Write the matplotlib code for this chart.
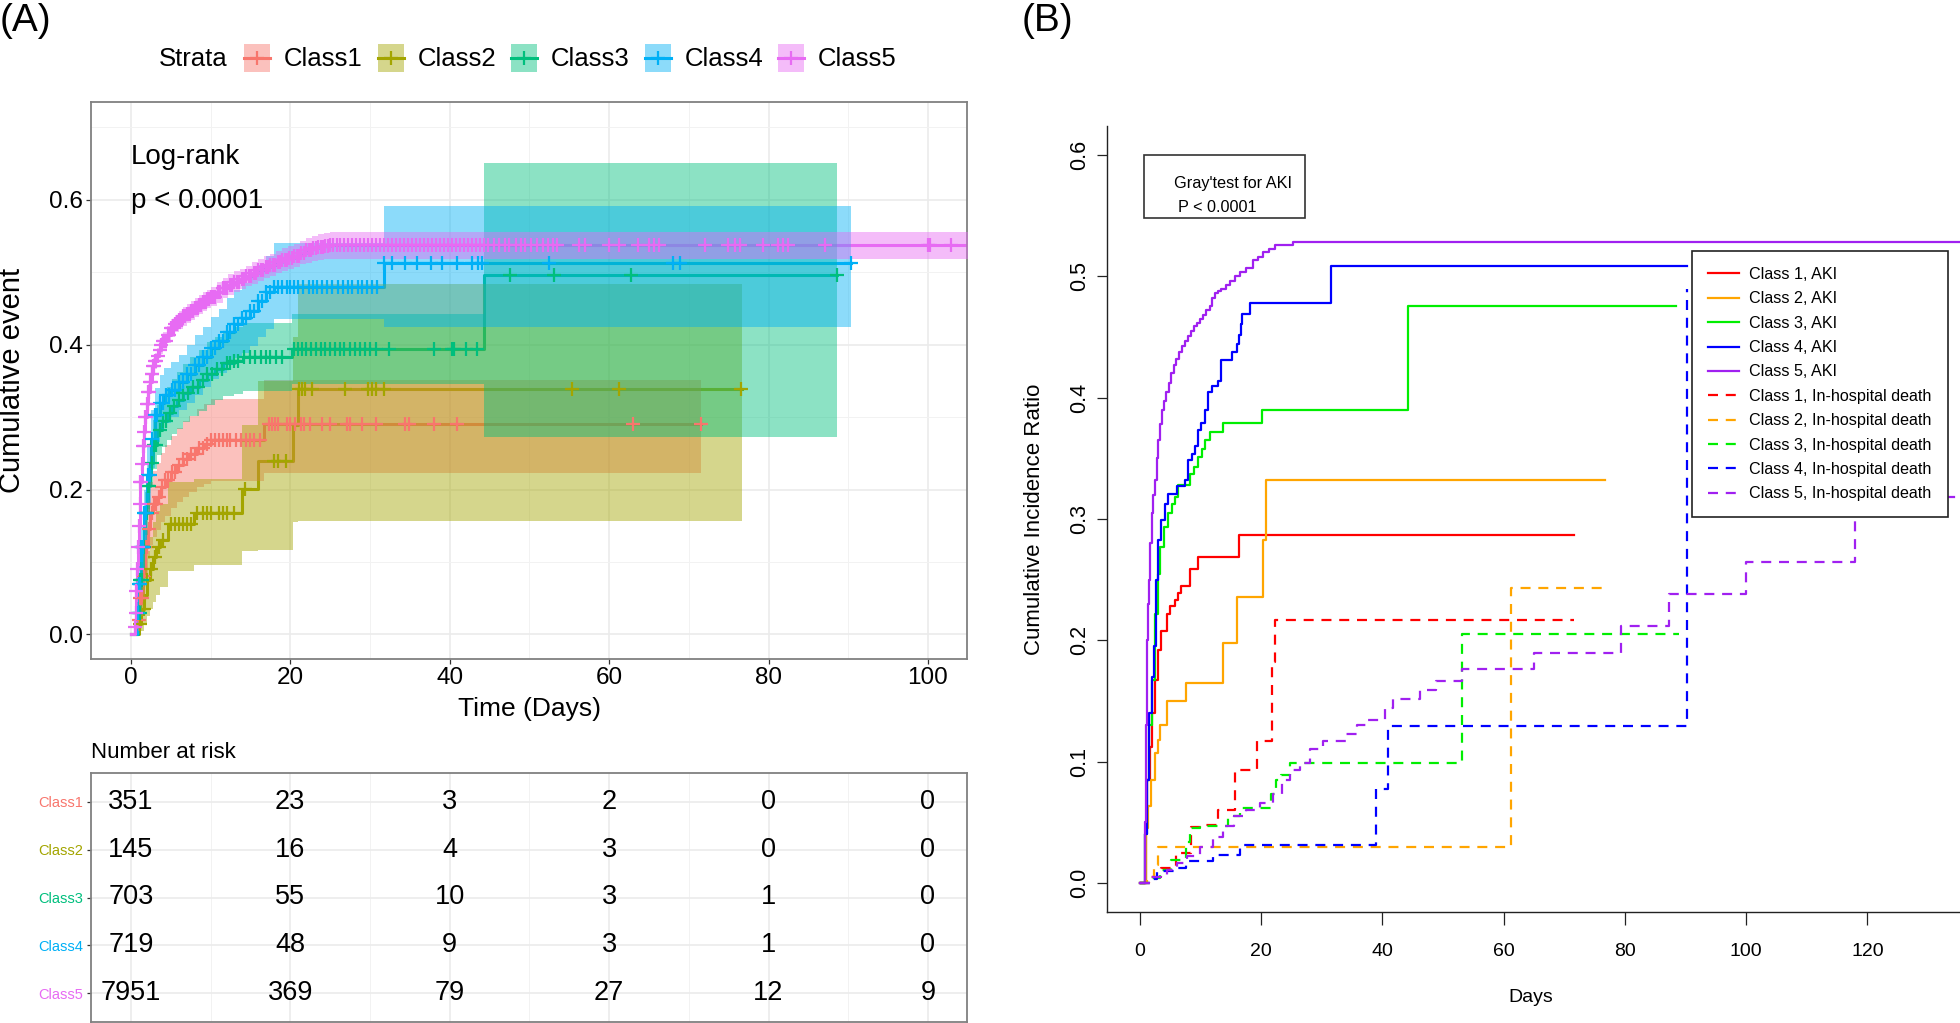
import numpy as np
import matplotlib
matplotlib.use("Agg")
import matplotlib.pyplot as plt
from matplotlib.lines import Line2D
from matplotlib.patches import Rectangle

plt.rcParams['font.family'] = ['Liberation Sans', 'DejaVu Sans']

# ================= DATA: panel A (Kaplan-Meier cumulative event) =================
classes = ["Class1", "Class2", "Class3", "Class4", "Class5"]
colors_A = ["#F8766D", "#A3A500", "#00BF7D", "#00B0F6", "#E76BF3"]

t1 = [0, 0.9, 1.2, 1.5, 1.8, 2.1, 2.4, 2.8, 3.3, 3.8, 4.3, 5.0, 5.8, 6.5, 7.3, 8.3, 9.2, 10, 16.7]
est1 = [0, 0.02, 0.05, 0.08, 0.12, 0.145, 0.167, 0.18, 0.19, 0.203, 0.213, 0.224, 0.234, 0.242, 0.249, 0.257, 0.263, 0.268, 0.291]
lo1 = [0, 0.005, 0.025, 0.048, 0.082, 0.104, 0.123, 0.135, 0.144, 0.155, 0.164, 0.174, 0.183, 0.19, 0.196, 0.203, 0.208, 0.212, 0.223]
hi1 = [0, 0.035, 0.075, 0.112, 0.158, 0.186, 0.211, 0.225, 0.236, 0.251, 0.262, 0.274, 0.285, 0.294, 0.302, 0.311, 0.318, 0.325, 0.351]
end1 = 71.5
cens1 = [1.0, 1.2, 1.4, 1.6, 1.8, 2.0, 2.3, 2.6, 2.9, 3.2, 3.5, 3.9, 4.3, 4.7, 5.1, 5.5, 6.0, 6.5,
         7.0, 7.5, 8.0, 8.5, 9.0, 9.5, 10, 10.5, 11, 11.5, 12, 12.5, 13.2, 13.8, 14.5, 15, 15.5, 16.2,
         17.3, 17.7, 18.1, 18.5, 19.6, 20, 20.6, 21.3, 21.7, 22.5, 24, 25, 27.1, 27.5, 29, 30.7,
         34.4, 34.9, 38, 40.9, 63, 71.5]

t2 = [0, 1.0, 1.3, 1.7, 2.0, 2.4, 2.8, 3.2, 3.7, 4.7, 7.9, 13.9, 16.0, 20.3, 21.0]
est2 = [0, 0.015, 0.035, 0.055, 0.075, 0.09, 0.107, 0.12, 0.13, 0.153, 0.167, 0.201, 0.24, 0.289, 0.339]
lo2 = [0, 0.0, 0.005, 0.015, 0.025, 0.035, 0.045, 0.055, 0.065, 0.088, 0.096, 0.115, 0.116, 0.155, 0.157]
hi2 = [0, 0.04, 0.065, 0.09, 0.115, 0.135, 0.155, 0.17, 0.18, 0.21, 0.215, 0.289, 0.35, 0.41, 0.484]
end2 = 76.7
cens2 = [1.2, 1.6, 2.0, 2.5, 3.0, 3.5, 4.0, 5, 5.5, 6, 6.5, 7, 7.5, 8.3, 9, 9.5, 10, 11, 11.5, 12, 13,
         14.3, 18, 18.5, 19.5, 21.05, 21.5, 21.9, 22.7, 26.9, 29.8, 30.3, 30.7, 31.7, 55.4, 61.3, 76.5]

t3 = [0, 0.9, 1.2, 1.5, 1.8, 2.1, 2.4, 2.8, 3.3, 3.9, 4.5, 5.2, 5.8, 6.6, 7.4, 8.5, 9.5, 10.5, 11.6, 13, 14.1, 20.2, 44.3]
est3 = [0, 0.03, 0.075, 0.12, 0.167, 0.205, 0.236, 0.262, 0.282, 0.295, 0.305, 0.315, 0.323, 0.333, 0.342, 0.351, 0.36, 0.367, 0.374, 0.378, 0.383, 0.394, 0.496]
lo3 = [0, 0.015, 0.05, 0.092, 0.137, 0.173, 0.203, 0.228, 0.247, 0.259, 0.268, 0.277, 0.284, 0.293, 0.301, 0.309, 0.317, 0.323, 0.329, 0.332, 0.336, 0.345, 0.273]
hi3 = [0, 0.045, 0.1, 0.148, 0.197, 0.237, 0.269, 0.296, 0.317, 0.331, 0.342, 0.353, 0.362, 0.373, 0.383, 0.393, 0.403, 0.411, 0.419, 0.424, 0.43, 0.443, 0.651]
end3 = 88.6
cens3 = [1.0, 1.1, 1.2, 1.3, 1.4, 1.5, 1.6, 1.8, 2.0, 2.2, 2.3, 2.6, 2.9, 3.2, 3.6, 4.0, 4.4, 4.9, 5.4,
         6.0, 6.6, 7.2, 7.8, 8.4, 9.0, 9.6, 10.2, 10.8, 11.4, 12, 12.5, 13, 13.5, 14.2, 15, 15.6, 16.3,
         17, 17.5, 18.2, 19, 20.5, 21, 21.5, 22, 22.6, 23.2, 23.8, 24.4, 25, 25.6, 26.2, 26.8, 27.5,
         28.1, 28.8, 29.4, 30, 30.8, 32.4, 38, 40.3, 40.5, 42.1, 43.4, 47.6, 53.1, 62.7, 88.6]

t4 = [0, 0.8, 1.0, 1.3, 1.6, 2.0, 2.5, 3.0, 3.6, 4.2, 5.0, 6.0, 7.0, 8.0, 9.0, 10.0, 11.0, 12.0, 13.0, 14.0, 15.0, 16.0, 17.0, 18.0, 31.7]
est4 = [0, 0.03, 0.07, 0.12, 0.167, 0.22, 0.27, 0.303, 0.32, 0.33, 0.338, 0.348, 0.36, 0.372, 0.383, 0.395, 0.405, 0.418, 0.428, 0.437, 0.447, 0.46, 0.472, 0.48, 0.513]
lo4 = [0, 0.015, 0.045, 0.09, 0.13, 0.18, 0.23, 0.265, 0.282, 0.292, 0.3, 0.31, 0.32, 0.331, 0.341, 0.352, 0.361, 0.372, 0.381, 0.389, 0.398, 0.41, 0.421, 0.435, 0.4245]
hi4 = [0, 0.045, 0.095, 0.15, 0.2, 0.26, 0.31, 0.34, 0.358, 0.368, 0.376, 0.386, 0.4, 0.413, 0.425, 0.438, 0.449, 0.464, 0.475, 0.485, 0.496, 0.51, 0.523, 0.54, 0.591]
end4 = 90.3
cens4 = [0.9, 1.0, 1.1, 1.2, 1.3, 1.4, 1.5, 1.7, 1.9, 2.1, 2.4, 2.7, 3.0, 3.3, 3.6, 4.0, 4.4, 4.8, 5.2,
         5.6, 6.0, 6.5, 7.0, 7.5, 8.0, 8.5, 9.0, 9.5, 10.0, 10.5, 11.0, 11.5, 12.0, 12.5, 13.0, 13.5,
         14.0, 14.5, 15.0, 15.5, 16.0, 16.5, 17.0, 17.5, 18, 18.5, 19, 19.6, 20, 20.5, 21, 21.6, 22.3,
         22.8, 23.3, 24, 24.6, 25.2, 26, 26.6, 27.2, 27.8, 28.5, 29, 29.6, 30.3, 30.9, 31.7, 32.8, 34.4,
         35.9, 37.6, 39.0, 40.9, 42.8, 43.6, 44.1, 52.5, 68.0, 68.9, 90.3]

t5 = [0, 0.5, 0.6, 0.7, 0.8, 0.9, 1.0, 1.1, 1.2, 1.35, 1.5, 1.65, 1.8, 2.0, 2.2, 2.4, 2.6, 2.8, 3.0,
      3.25, 3.5, 3.75, 4.0, 4.5, 5.0, 5.5, 6.0, 6.5, 7.0, 7.5, 8.0, 8.5, 9.0, 9.5, 10, 10.75, 11.5,
      12.25, 13, 13.75, 14.5, 15.25, 16, 16.75, 17.5, 18.25, 19, 19.75, 20.5, 21.25, 22, 22.75, 23.5,
      24.25, 25]
est5 = [0, 0.01, 0.03, 0.06, 0.09, 0.12, 0.15, 0.18, 0.21, 0.235, 0.26, 0.28, 0.30, 0.318, 0.335,
        0.348, 0.36, 0.37, 0.378, 0.385, 0.392, 0.399, 0.405, 0.414, 0.423, 0.429, 0.434, 0.439, 0.443,
        0.447, 0.451, 0.455, 0.459, 0.463, 0.466, 0.472, 0.478, 0.483, 0.487, 0.491, 0.495, 0.499,
        0.503, 0.507, 0.510, 0.514, 0.517, 0.520, 0.523, 0.527, 0.530, 0.533, 0.535, 0.536, 0.537]
lo5 = [0, 0.006, 0.025, 0.054, 0.083, 0.113, 0.142, 0.172, 0.201, 0.226, 0.25, 0.27, 0.29, 0.308,
       0.324, 0.337, 0.349, 0.359, 0.367, 0.374, 0.381, 0.387, 0.393, 0.402, 0.411, 0.417, 0.422,
       0.426, 0.43, 0.434, 0.438, 0.442, 0.446, 0.45, 0.453, 0.458, 0.464, 0.469, 0.473, 0.477, 0.481,
       0.484, 0.488, 0.492, 0.495, 0.499, 0.501, 0.504, 0.507, 0.511, 0.513, 0.516, 0.517, 0.518, 0.518]
hi5 = [0, 0.014, 0.035, 0.066, 0.097, 0.127, 0.158, 0.188, 0.219, 0.244, 0.27, 0.29, 0.31, 0.328,
       0.346, 0.359, 0.371, 0.381, 0.389, 0.396, 0.403, 0.411, 0.417, 0.426, 0.435, 0.441, 0.446,
       0.452, 0.456, 0.46, 0.464, 0.468, 0.472, 0.476, 0.479, 0.486, 0.492, 0.497, 0.501, 0.505, 0.509,
       0.514, 0.518, 0.522, 0.525, 0.529, 0.533, 0.536, 0.539, 0.543, 0.547, 0.55, 0.553, 0.554, 0.556]
end5 = 105.0
cens5 = [0.5, 0.6, 0.7, 0.8, 0.9, 1.0, 1.1, 1.2, 1.3, 1.4, 1.5, 1.6, 1.7, 1.8, 1.9, 2.0, 2.1, 2.2,
         2.3, 2.4, 2.5, 2.6, 2.7, 2.8, 2.9, 3.0, 3.2, 3.4, 3.6, 3.8, 4.0, 4.2, 4.4, 4.6, 4.8, 5.0, 5.2,
         5.4, 5.6, 5.8, 6.0, 6.2, 6.4, 6.6, 6.8, 7.0, 7.2, 7.4, 7.6, 7.8, 8.0, 8.2, 8.4, 8.6, 8.8, 9.0,
         9.2, 9.4, 9.6, 9.8, 10.0, 10.3, 10.6, 10.9, 11.2, 11.5, 11.8, 12.1, 12.4, 12.7, 13.0, 13.3,
         13.6, 13.9, 14.2, 14.5, 14.8, 15.1, 15.4, 15.7, 16.0, 16.3, 16.6, 16.9, 17.2, 17.5, 17.8, 18.1,
         18.4, 18.7, 19.0, 19.3, 19.6, 19.9, 20.2, 20.5, 20.8, 21.1, 21.4, 21.7, 22.0, 22.3, 22.6, 22.9,
         23.2, 23.5, 23.8, 24.1, 24.4, 24.7, 25.0, 25.4, 25.8, 26.3, 26.8, 27.3, 27.8, 28.3, 28.8, 29.3,
         29.8, 30.3, 30.8, 31.3, 31.8, 32.3, 32.8, 33.3, 33.8, 34.3, 34.8, 35.3, 35.8, 36.3, 36.8, 37.3,
         37.8, 38.3, 38.8, 39.3, 39.8, 40.3, 40.8, 41.3, 41.8, 42.3, 42.8, 43.3, 43.8, 44.3, 44.8, 45.5,
         46.2, 47, 47.5, 48.3, 49, 49.5, 50.2, 51, 51.7, 52.3, 53, 53.5, 56.2, 57, 60, 61.2, 63.6, 65,
         65.6, 66.2, 72, 74.9, 75.8, 76.4, 79.3, 81.2, 81.8, 82.5, 87.1, 100, 100.3, 102.9]

risk_times = [0, 20, 40, 60, 80, 100]
risk1 = [351, 23, 3, 2, 0, 0]
risk2 = [145, 16, 4, 3, 0, 0]
risk3 = [703, 55, 10, 3, 1, 0]
risk4 = [719, 48, 9, 3, 1, 0]
risk5 = [7951, 369, 79, 27, 12, 9]

# ================= DATA: panel B (cumulative incidence, competing risks) =================
colors_B = ["#FF0000", "#FFA500", "#00EE00", "#0000FF", "#A020F0"]
labels_aki = ["Class 1, AKI", "Class 2, AKI", "Class 3, AKI", "Class 4, AKI", "Class 5, AKI"]
labels_death = ["Class 1, In-hospital death", "Class 2, In-hospital death", "Class 3, In-hospital death",
                "Class 4, In-hospital death", "Class 5, In-hospital death"]

aki1_t = [0, 1.0, 1.3, 1.7, 2.1, 2.5, 3.1, 3.6, 4.5, 5.0, 5.8, 6.4, 6.8, 8.3, 9.7, 16.4, 71.6]
aki1_v = [0, 0.05, 0.085, 0.112, 0.14, 0.167, 0.192, 0.208, 0.222, 0.228, 0.233, 0.239, 0.245, 0.259, 0.269, 0.287, 0.287]
aki2_t = [0, 1.0, 1.4, 1.9, 2.5, 3.0, 3.4, 4.5, 7.7, 13.7, 16.0, 20.3, 20.8, 76.7]
aki2_v = [0, 0.045, 0.063, 0.085, 0.107, 0.118, 0.13, 0.15, 0.165, 0.198, 0.236, 0.283, 0.332, 0.332]
aki3_t = [0, 0.9, 1.2, 1.5, 2.0, 2.5, 3.0, 3.4, 4.0, 4.7, 5.3, 5.8, 6.4, 8.3, 9.0, 9.7, 10.3, 10.8, 11.6, 13.7, 20.1, 44.3, 88.5]
aki3_v = [0, 0.04, 0.085, 0.13, 0.167, 0.222, 0.255, 0.277, 0.293, 0.305, 0.312, 0.318, 0.328, 0.337, 0.343, 0.351, 0.358, 0.365, 0.372, 0.379, 0.39, 0.476, 0.476]
aki4_t = [0, 0.9, 1.2, 1.6, 2.0, 2.3, 2.7, 3.1, 3.6, 4.2, 4.7, 6.1, 7.5, 8.0, 8.6, 9.1, 9.7, 10.2, 10.8, 11.3, 12.0, 13.0, 13.5, 15.2, 16.0, 16.4, 16.7, 16.9, 18.2, 31.5, 90.3]
aki4_v = [0, 0.04, 0.085, 0.14, 0.17, 0.195, 0.25, 0.283, 0.299, 0.312, 0.321, 0.327, 0.332, 0.349, 0.354, 0.36, 0.373, 0.379, 0.39, 0.405, 0.41, 0.414, 0.431, 0.4377, 0.4446, 0.4515, 0.461, 0.469, 0.4777, 0.5085, 0.5085]
aki5_t = [0, 0.9, 1.0, 1.1, 1.2, 1.3, 1.45, 1.6, 1.8, 2.0, 2.2, 2.5, 2.8, 3.1, 3.4, 3.7, 4.0, 4.4, 4.8,
          5.2, 5.6, 6.0, 6.5, 7.0, 7.5, 8.0, 8.5, 9.0, 9.5, 10.0, 10.5, 11.0, 11.6, 12.0, 12.4, 13.0,
          13.5, 14.2, 14.9, 15.7, 16.5, 17.5, 18.7, 19.5, 20.4, 21.3, 22.3, 25.3, 145]
aki5_v = [0, 0.05, 0.1, 0.13, 0.16, 0.2, 0.23, 0.25, 0.28, 0.305, 0.32, 0.332, 0.35, 0.365, 0.378,
          0.39, 0.397, 0.405, 0.412, 0.42, 0.427, 0.432, 0.438, 0.443, 0.447, 0.451, 0.455, 0.459,
          0.462, 0.465, 0.468, 0.472, 0.476, 0.482, 0.486, 0.488, 0.49, 0.493, 0.496, 0.5, 0.504,
          0.507, 0.5135, 0.516, 0.52, 0.523, 0.526, 0.528, 0.528]

death1_t = [0, 1.5, 3.5, 6.0, 8.5, 11.0, 13.0, 15.7, 19.3, 21.9, 22.4, 71.6]
death1_v = [0, 0.005, 0.012, 0.025, 0.046, 0.048, 0.06, 0.093, 0.117, 0.182, 0.217, 0.217]
death2_t = [0, 1.2, 2.3, 3.1, 61.3, 76.7]
death2_v = [0, 0.005, 0.015, 0.03, 0.243, 0.243]
death3_t = [0, 1.9, 3.4, 5.1, 7.7, 8.3, 10.0, 14.5, 16.5, 21.7, 22.5, 23.3, 24.8, 53.1, 89.0]
death3_v = [0, 0.004, 0.011, 0.019, 0.034, 0.045, 0.047, 0.055, 0.062, 0.073, 0.085, 0.089, 0.099, 0.205, 0.205]
death4_t = [0, 1.7, 2.8, 5.8, 7.7, 12.1, 16.5, 38.9, 41.0, 90.2]
death4_v = [0, 0.003, 0.0096, 0.012, 0.018, 0.023, 0.031, 0.077, 0.129, 0.49]
death5_t = [0, 1.7, 4.5, 6.2, 7.8, 10.0, 12.1, 13.8, 15.5, 17.6, 19.8, 22.0, 23.4, 24.8, 26.4, 28.1, 30.3,
            34.1, 35.8, 37.7, 40.4, 41.8, 46.2, 48.9, 53.1, 65.1, 79.4, 87.3, 100.0, 117.9, 145]
death5_v = [0, 0.005, 0.011, 0.016, 0.022, 0.03, 0.038, 0.047, 0.055, 0.06, 0.066, 0.073, 0.085, 0.093,
            0.099, 0.11, 0.117, 0.123, 0.13, 0.134, 0.144, 0.152, 0.159, 0.1665, 0.1766, 0.1898, 0.2118,
            0.238, 0.2647, 0.318, 0.318]

# ================= FIGURE =================
W, H = 1960, 1023
fig = plt.figure(figsize=(W / 100, H / 100), dpi=100)


def fx(px):
    return px / W


def fy(py):
    return 1 - py / H


def box(l, t, r, b):
    return [fx(l), fy(b), (r - l) / W, (b - t) / H]


# ---------------- Panel A ----------------
axA = fig.add_axes(box(91, 102, 967, 659))
axA.set_xlim(-5.0, 104.9)
axA.set_ylim(-0.034, 0.735)
axA.set_xticks([0, 20, 40, 60, 80, 100])
axA.set_xticks([10, 30, 50, 70, 90], minor=True)
axA.set_yticks([0.0, 0.2, 0.4, 0.6])
axA.set_yticklabels(["0.0", "0.2", "0.4", "0.6"])
axA.set_yticks([0.1, 0.3, 0.5, 0.7], minor=True)
axA.grid(which='major', color='#EBEBEB', lw=1.2, zorder=0)
axA.grid(which='minor', color='#F2F2F2', lw=0.7, zorder=0)
axA.set_axisbelow(True)
for s in axA.spines.values():
    s.set_color('#808080')
    s.set_linewidth(1.3)
axA.tick_params(which='major', length=3.6, width=0.9, color='#333333', labelsize=17.5, pad=2.5)
axA.tick_params(which='minor', length=0)

series_A = [
    (t1, est1, lo1, hi1, end1, cens1),
    (t2, est2, lo2, hi2, end2, cens2),
    (t3, est3, lo3, hi3, end3, cens3),
    (t4, est4, lo4, hi4, end4, cens4),
    (t5, est5, lo5, hi5, end5, cens5),
]
for (t, est, lo, hi, tend, cens), col in zip(series_A, colors_A):
    tx = list(t) + [tend]
    ex = list(est) + [est[-1]]
    axA.step(tx, ex, where='post', color=col, lw=2.2, zorder=2)
for (t, est, lo, hi, tend, cens), col in zip(series_A, colors_A):
    tx = list(t) + [tend]
    lx = list(lo) + [lo[-1]]
    hx = list(hi) + [hi[-1]]
    axA.fill_between(tx, lx, hx, step='post', color=col, alpha=0.45, lw=0, zorder=3)
for (t, est, lo, hi, tend, cens), col in zip(series_A, colors_A):
    idx = np.searchsorted(np.array(t), np.array(cens), side='right') - 1
    axA.plot(cens, np.array(est)[idx], ls='none', marker='+', ms=10, mew=1.6, color=col, zorder=4)

axA.text(0, 0.659, "Log-rank", fontsize=20, ha='left', va='center')
axA.text(0, 0.598, "p < 0.0001", fontsize=20, ha='left', va='center')
axA.set_xlabel("Time (Days)", fontsize=19)
axA.xaxis.set_label_coords(0.5, -(709 - 659) / 557)
axA.xaxis.label.set_va('center')
axA.set_ylabel("Cumulative event", fontsize=21)
axA.yaxis.set_label_coords((12 - 91) / 876, 0.5)
axA.yaxis.label.set_va('center')

# top legend (Strata)
fig.text(fx(159), fy(59), "Strata", fontsize=18.5, ha='left', va='center')
for i, (name, col) in enumerate(zip(classes, colors_A)):
    kx = 244 + i * 133.5
    fig.add_artist(Rectangle((fx(kx), fy(72)), 26 / W, 28 / H, transform=fig.transFigure,
                             facecolor=col, alpha=0.45, lw=0))
    fig.add_artist(Line2D([fx(kx), fx(kx + 26)], [fy(58), fy(58)], transform=fig.transFigure,
                          color=col, lw=2.2))
    fig.add_artist(Line2D([fx(kx + 13)], [fy(58)], transform=fig.transFigure, color=col,
                          marker='+', ms=10, mew=1.6, ls='none'))
    fig.text(fx(kx + 40), fy(59), name, fontsize=18.5, ha='left', va='center')

fig.text(fx(0), fy(21), "(A)", fontsize=28, ha='left', va='center')

# ---------------- Risk table ----------------
axT = fig.add_axes(box(91, 773, 967, 1022))
axT.set_xlim(-5.0, 104.9)
axT.set_ylim(0.4, 5.6)
axT.set_xticks([0, 20, 40, 60, 80, 100])
axT.set_xticks([10, 30, 50, 70, 90], minor=True)
axT.tick_params(axis='x', which='both', length=0, labelbottom=False)
axT.set_yticks([5, 4, 3, 2, 1])
axT.set_yticklabels(classes)
for lab, col in zip(axT.get_yticklabels(), colors_A):
    lab.set_color(col)
axT.tick_params(axis='y', length=3, width=0.9, color='#333333', labelsize=10.5, pad=3)
axT.grid(which='major', color='#EBEBEB', lw=1.2)
axT.grid(which='minor', axis='x', color='#F2F2F2', lw=0.7)
axT.set_axisbelow(True)
for s in axT.spines.values():
    s.set_color('#808080')
    s.set_linewidth(1.3)
for row, risk in zip([5, 4, 3, 2, 1], [risk1, risk2, risk3, risk4, risk5]):
    for tt, n in zip(risk_times, risk):
        axT.text(tt, row, str(n), ha='center', va='center', fontsize=19.5)
fig.text(fx(91), fy(753), "Number at risk", fontsize=16, ha='left', va='center')

# ---------------- Panel B ----------------
axB = fig.add_axes(box(1107, 126, 1987, 912))
axB.set_xlim(-5.37, 139.7)
axB.set_ylim(-0.024, 0.624)
axB.spines['top'].set_visible(False)
axB.spines['right'].set_visible(False)
for s in ('left', 'bottom'):
    axB.spines[s].set_linewidth(1.0)
    axB.spines[s].set_color('#222222')
axB.set_xticks([0, 20, 40, 60, 80, 100, 120])
axB.set_yticks([0.0, 0.1, 0.2, 0.3, 0.4, 0.5, 0.6])
axB.set_yticklabels(["0.0", "0.1", "0.2", "0.3", "0.4", "0.5", "0.6"])
axB.tick_params(axis='y', length=7.5, width=0.9, color='#222222', pad=5, labelsize=15.5, labelrotation=90)
for lab in axB.get_yticklabels():
    lab.set_va('center')
axB.tick_params(axis='x', length=9, width=0.9, color='#222222', pad=13, labelsize=14)

aki = [(aki1_t, aki1_v), (aki2_t, aki2_v), (aki3_t, aki3_v), (aki4_t, aki4_v), (aki5_t, aki5_v)]
death = [(death1_t, death1_v), (death2_t, death2_v), (death3_t, death3_v), (death4_t, death4_v),
         (death5_t, death5_v)]
dash = (0, (4.5, 3.5))
handles = []
for (t, v), col, lab in zip(aki, colors_B, labels_aki):
    ln, = axB.step(t, v, where='post', color=col, lw=1.6, label=lab)
    handles.append(ln)
for (t, v), col, lab in zip(death, colors_B, labels_death):
    ln, = axB.step(t, v, where='post', color=col, lw=1.6, ls=dash, label=lab)
    handles.append(ln)

leg = axB.legend(handles=handles, loc='upper left', bbox_to_anchor=(fx(1692), fy(251)),
                 bbox_transform=fig.transFigure, borderaxespad=0, fontsize=11.6,
                 handlelength=1.9, handletextpad=0.65, labelspacing=0.58, borderpad=1.0,
                 frameon=True, fancybox=False, framealpha=1, edgecolor='#222222')
leg.get_frame().set_linewidth(1.2)
leg.set_zorder(10)

axB.set_xlabel("Days", fontsize=14)
axB.xaxis.set_label_coords((1531 - 1107) / 880, -(998 - 912) / 786)
axB.xaxis.label.set_va('center')
axB.set_ylabel("Cumulative Incidence Ratio", fontsize=16)
axB.yaxis.set_label_coords((1034 - 1107) / 880, 0.5)
axB.yaxis.label.set_va('center')

fig.add_artist(Rectangle((fx(1144), fy(218)), (1305 - 1144) / W, (218 - 155) / H,
                         transform=fig.transFigure, fill=False, edgecolor='#333333', lw=1.2))
fig.text(fx(1174), fy(183), "Gray'test for AKI", fontsize=11.7, ha='left', va='center')
fig.text(fx(1178), fy(207), "P < 0.0001", fontsize=11.7, ha='left', va='center')

fig.text(fx(1022), fy(21), "(B)", fontsize=28, ha='left', va='center')

fig.savefig("out.png", dpi=100)
